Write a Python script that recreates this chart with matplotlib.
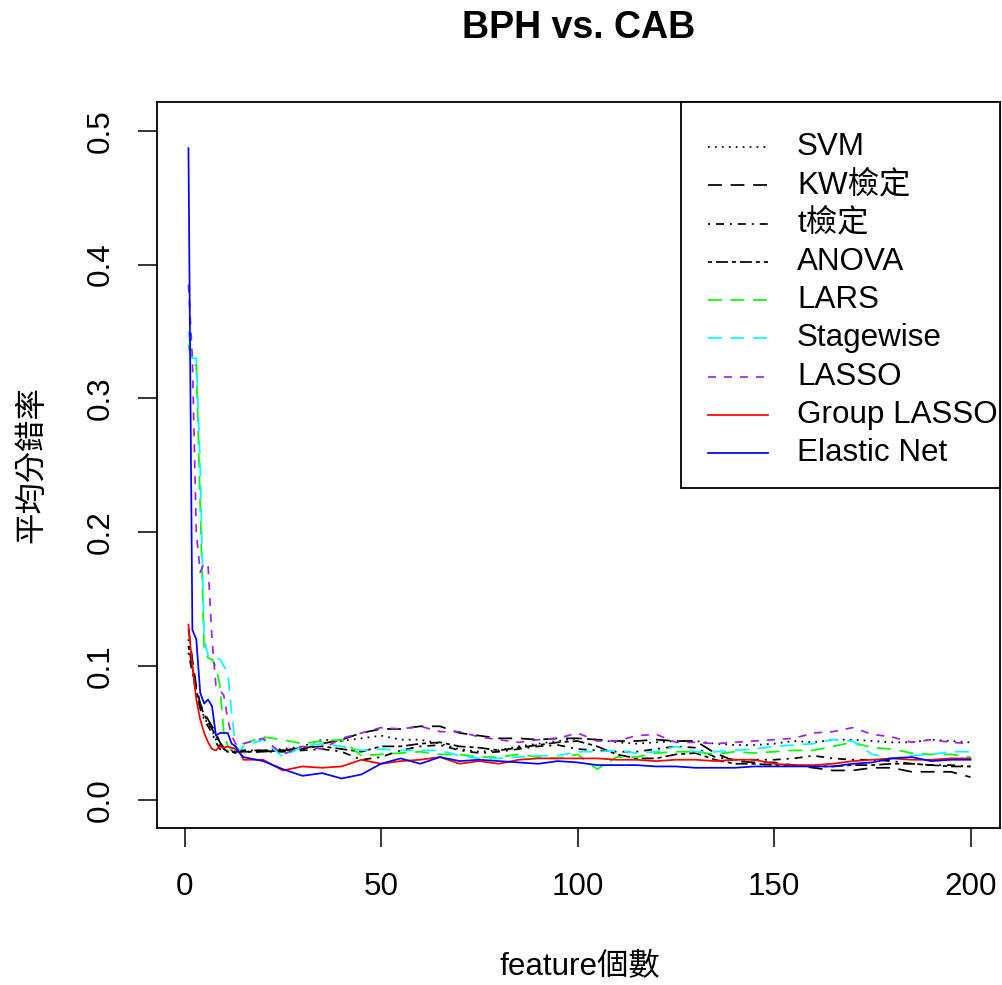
import matplotlib
matplotlib.use("Agg")
import matplotlib.pyplot as plt
from matplotlib.lines import Line2D
from matplotlib.patches import Rectangle

plt.rcParams['font.family'] = ['Liberation Sans', 'Noto Sans CJK TC', 'DejaVu Sans']

# feature counts (x positions of the readings)
x_feat = list(range(1, 15)) + list(range(15, 201, 5))

svm = [0.120, 0.100, 0.078, 0.070, 0.062, 0.056, 0.052, 0.045, 0.040, 0.038, 0.037, 0.037, 0.036, 0.037,
       0.037, 0.037, 0.038, 0.040, 0.045, 0.044, 0.046, 0.048, 0.045, 0.045, 0.042, 0.038, 0.036, 0.037,
       0.040, 0.042, 0.044, 0.046, 0.045, 0.043, 0.042, 0.043, 0.044, 0.044, 0.042, 0.041, 0.041, 0.042,
       0.044, 0.043, 0.045, 0.045, 0.044, 0.043, 0.043, 0.045, 0.044, 0.043]
kw = [0.128, 0.105, 0.085, 0.072, 0.065, 0.060, 0.055, 0.050, 0.043, 0.039, 0.037, 0.036, 0.036, 0.037,
      0.037, 0.037, 0.037, 0.038, 0.042, 0.045, 0.050, 0.053, 0.053, 0.055, 0.055, 0.050, 0.048, 0.046,
      0.046, 0.045, 0.046, 0.046, 0.045, 0.044, 0.044, 0.045, 0.044, 0.044, 0.035, 0.029, 0.028, 0.028,
      0.026, 0.024, 0.022, 0.022, 0.024, 0.024, 0.021, 0.021, 0.021, 0.017]
ttest = [0.110, 0.095, 0.080, 0.068, 0.060, 0.055, 0.050, 0.043, 0.038, 0.037, 0.036, 0.037, 0.036, 0.036,
         0.036, 0.036, 0.036, 0.037, 0.038, 0.036, 0.030, 0.032, 0.037, 0.040, 0.041, 0.037, 0.035, 0.036,
         0.038, 0.040, 0.041, 0.038, 0.037, 0.036, 0.036, 0.038, 0.040, 0.039, 0.032, 0.030, 0.030, 0.030,
         0.031, 0.033, 0.031, 0.030, 0.030, 0.029, 0.027, 0.026, 0.026, 0.025]
anova = [0.115, 0.100, 0.082, 0.070, 0.064, 0.058, 0.053, 0.048, 0.042, 0.038, 0.036, 0.036, 0.035, 0.036,
         0.036, 0.036, 0.037, 0.039, 0.040, 0.038, 0.036, 0.040, 0.040, 0.042, 0.043, 0.040, 0.039, 0.037,
         0.039, 0.041, 0.043, 0.044, 0.040, 0.034, 0.031, 0.031, 0.034, 0.035, 0.030, 0.027, 0.027, 0.026,
         0.026, 0.025, 0.025, 0.026, 0.026, 0.027, 0.027, 0.026, 0.025, 0.025]
lars = [0.340, 0.325, 0.325, 0.220, 0.112, 0.106, 0.105, 0.100, 0.085, 0.050, 0.040, 0.038, 0.040, 0.042,
        0.042, 0.047, 0.045, 0.042, 0.044, 0.045, 0.033, 0.034, 0.035, 0.036, 0.034, 0.034, 0.032, 0.032,
        0.034, 0.032, 0.031, 0.034, 0.023, 0.032, 0.032, 0.035, 0.036, 0.036, 0.034, 0.036, 0.035, 0.036,
        0.037, 0.037, 0.040, 0.043, 0.039, 0.038, 0.035, 0.034, 0.034, 0.032]
stagewise = [0.350, 0.330, 0.330, 0.250, 0.120, 0.108, 0.107, 0.106, 0.105, 0.100, 0.095, 0.065, 0.040, 0.037,
             0.040, 0.045, 0.032, 0.040, 0.042, 0.040, 0.037, 0.038, 0.037, 0.037, 0.037, 0.033, 0.031, 0.031,
             0.032, 0.033, 0.033, 0.036, 0.036, 0.037, 0.035, 0.036, 0.040, 0.036, 0.036, 0.037, 0.038, 0.040,
             0.041, 0.042, 0.045, 0.044, 0.034, 0.031, 0.033, 0.034, 0.036, 0.036]
lasso = [0.385, 0.330, 0.200, 0.170, 0.177, 0.175, 0.120, 0.085, 0.082, 0.078, 0.060, 0.048, 0.042, 0.040,
         0.042, 0.046, 0.034, 0.040, 0.038, 0.046, 0.050, 0.054, 0.053, 0.055, 0.051, 0.051, 0.047, 0.045,
         0.043, 0.045, 0.046, 0.050, 0.044, 0.044, 0.048, 0.049, 0.043, 0.043, 0.042, 0.043, 0.044, 0.045,
         0.046, 0.050, 0.051, 0.054, 0.049, 0.047, 0.043, 0.045, 0.043, 0.042]
group_lasso = [0.131, 0.100, 0.075, 0.060, 0.050, 0.043, 0.038, 0.037, 0.040, 0.039, 0.040, 0.039, 0.038, 0.036,
               0.030, 0.030, 0.022, 0.025, 0.024, 0.025, 0.030, 0.027, 0.029, 0.030, 0.032, 0.027, 0.029, 0.027,
               0.030, 0.031, 0.031, 0.031, 0.031, 0.030, 0.030, 0.029, 0.030, 0.030, 0.029, 0.030, 0.030, 0.027,
               0.026, 0.026, 0.027, 0.029, 0.030, 0.031, 0.030, 0.030, 0.031, 0.031]
elastic_net = [0.487, 0.127, 0.120, 0.080, 0.072, 0.075, 0.070, 0.048, 0.050, 0.050, 0.050, 0.042, 0.040, 0.035,
               0.032, 0.029, 0.023, 0.018, 0.020, 0.016, 0.019, 0.027, 0.031, 0.027, 0.032, 0.029, 0.030, 0.029,
               0.028, 0.027, 0.029, 0.028, 0.026, 0.026, 0.026, 0.025, 0.025, 0.024, 0.024, 0.024, 0.025, 0.025,
               0.025, 0.025, 0.025, 0.027, 0.028, 0.031, 0.032, 0.029, 0.030, 0.030]

labels = ["SVM", "KW檢定", "t檢定", "ANOVA", "LARS", "Stagewise", "LASSO", "Group LASSO", "Elastic Net"]
series = [svm, kw, ttest, anova, lars, stagewise, lasso, group_lasso, elastic_net]
colors = ["black", "black", "black", "black", "#00FF00", "#00FFFF", "#A020F0", "#FF0000", "#0000FF"]
styles = [(0, (1, 3)), (0, (8, 5)), (0, (1.2, 3.4, 4.6, 3.4)), (0, (2.3, 2.3, 6.9, 2.3)),
          (0, (8, 5)), (0, (8, 5)), (0, (4.6, 4.6)), "-", "-"]

W, H = 1002, 985
fig = plt.figure(figsize=(W / 100, H / 100), dpi=100)
ax = fig.add_axes([157 / W, 1 - 828 / H, (1000 - 157) / W, (828 - 102) / H])

for ys, lab, c, ls in zip(series, labels, colors, styles):
    ax.plot(x_feat, ys, color=c, linestyle=ls, linewidth=1.25, label=lab)

ax.set_xlim(-7.0, 207.5)
ax.set_ylim(-0.021, 0.5215)
ax.set_xticks([0, 50, 100, 150, 200])
ax.set_yticks([0.0, 0.1, 0.2, 0.3, 0.4, 0.5])
ax.set_yticklabels(["0.0", "0.1", "0.2", "0.3", "0.4", "0.5"], rotation=90, va="center")
ax.tick_params(axis="both", length=13.7, width=1.1, labelsize=22.6, color="black")
ax.tick_params(axis="x", pad=18)
ax.tick_params(axis="y", pad=16)
for sp in ax.spines.values():
    sp.set_linewidth(1.3)
    sp.set_color("black")

fig.text((157 + 1000) / 2 / W, 1 - 28 / H, "BPH vs. CAB", ha="center", va="center",
         fontsize=27, fontweight="bold")
fig.text(580 / W, 1 - 967 / H, "feature個數", ha="center", va="center", fontsize=22.6)
fig.text(32 / W, 1 - 465 / H, "平均分錯率", ha="center", va="center", fontsize=22.6, rotation=90)

# legend box (R-style, top right of plot region)
fig.add_artist(Rectangle((681 / W, 1 - 488 / H), (1000 - 681) / W, (488 - 102) / H,
                         transform=fig.transFigure, facecolor="white", edgecolor="black",
                         linewidth=1.3, zorder=3))
for i, (lab, c, ls) in enumerate(zip(labels, colors, styles)):
    yy = 1 - (147 + i * 38.3) / H
    fig.add_artist(Line2D([708 / W, 768 / W], [yy, yy], transform=fig.transFigure,
                          color=c, linestyle=ls, linewidth=1.25, zorder=4))
    fig.text(797 / W, yy, lab, ha="left", va="center", fontsize=22.6, zorder=4)

fig.savefig("out.png", dpi=100, facecolor="white")
